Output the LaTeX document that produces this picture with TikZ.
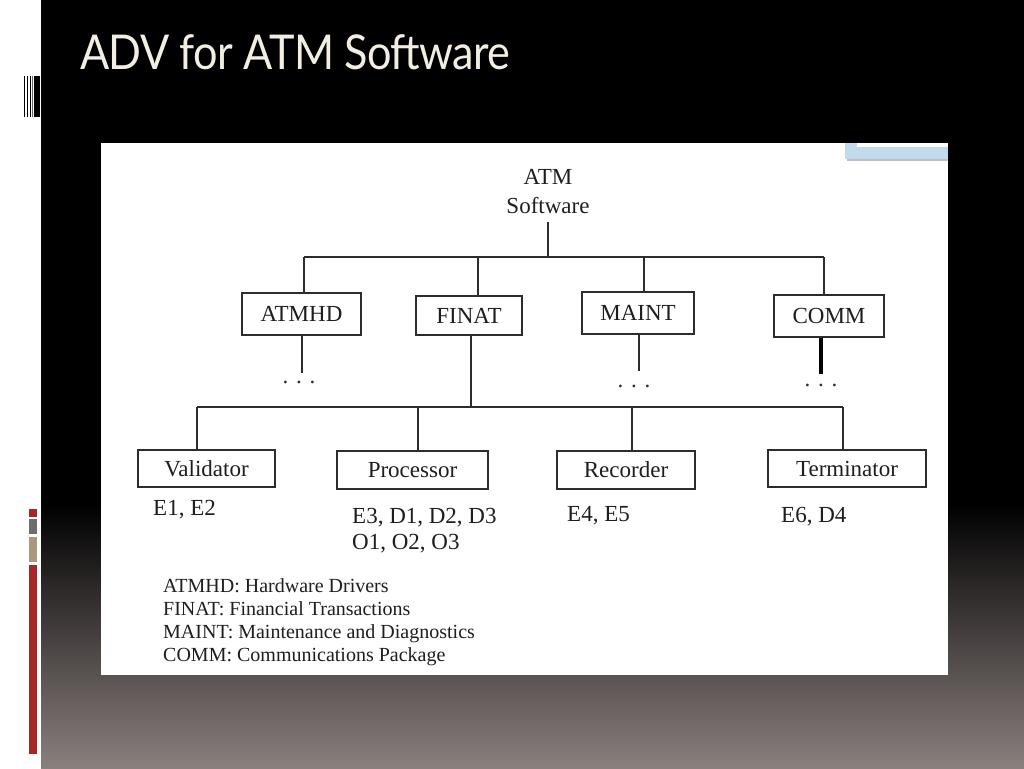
\documentclass[tikz,border=0pt]{standalone}
\usepackage{fontspec}
\usepackage{graphicx}
\setmainfont{Liberation Serif}
\newfontfamily\titlefont[LetterSpace=-1.5]{Lato}
\definecolor{bgend}{RGB}{138,128,126}
\definecolor{titlec}{RGB}{242,238,226}
\definecolor{linec}{RGB}{45,45,45}
\definecolor{txtc}{RGB}{30,30,30}
\definecolor{barred}{RGB}{165,40,40}
\definecolor{bargray}{RGB}{110,110,110}
\definecolor{bartan}{RGB}{170,152,122}
\definecolor{tabblue}{RGB}{192,219,236}
\newcommand{\diagfont}{\fontsize{23}{27}\selectfont}
\newcommand{\legfont}{\fontsize{20}{23}\selectfont}
\tikzset{
  box/.style={draw=linec, line width=1.3pt, inner sep=0pt, text height=15.2pt, text depth=0pt, font=\diagfont, text=txtc},
  conn/.style={draw=linec, line width=1.3pt},
  lbl/.style={inner sep=0pt, anchor=base west, font=\diagfont, text=txtc},
  leg/.style={inner sep=0pt, anchor=base west, font=\legfont, text=txtc},
  dotsl/.style={inner sep=0pt, anchor=base, font=\diagfont, text=linec}
}
\begin{document}
\begin{tikzpicture}[x=1pt,y=-1pt]
\useasboundingbox (0,0) rectangle (1024,768);
% background
\fill[white] (0,0) rectangle (1024,768);
\fill[black] (41,0) rectangle (1024,503);
\shade[top color=black, bottom color=bgend] (41,503) rectangle (1024,768);
% decorative stripes top-left
\fill[black] (24.3,76) rectangle (25.4,117);
\fill[black] (27,76) rectangle (28.2,117);
\fill[black] (29.8,76) rectangle (31.3,117);
\fill[black!60] (32,76) rectangle (33,117);
\fill[black] (34,76) rectangle (40,117);
% decorative bars bottom-left
\fill[barred] (29,509) rectangle (37,517);
\fill[bargray] (29,519) rectangle (37,534);
\fill[bartan] (29,537) rectangle (37,562);
\fill[barred] (29,565) rectangle (37,754);
% title
\node[inner sep=0pt, anchor=base west, text=titlec, font=\titlefont\fontsize{48}{50}\selectfont] (title) at (80,70) {\scalebox{0.9}[1]{ADV for ATM Software}};
% image panel
\fill[white] (101,143) rectangle (948,675);
\fill[black!25] (847,145) rectangle (948,161);
\fill[tabblue] (845,143) rectangle (948,159);
\fill[white] (857,143) rectangle (948,146.5);
% diagram
\node[lbl, anchor=base] (atm) at (548,184) {ATM};
\node[lbl, anchor=base] (sw) at (548,213) {Software};
\coordinate (stem) at (548,222);
\coordinate (b1a) at (304,257);
\coordinate (b1b) at (478,257);
\coordinate (b1c) at (548,257);
\coordinate (b1d) at (644,257);
\coordinate (b1e) at (824,257);

\node[box, minimum width=119pt, minimum height=42pt] (atmhd) at (301.5,314) {ATMHD};
\node[box, minimum width=106pt, minimum height=39pt] (finat) at (469,315.5) {FINAT};
\node[box, minimum width=112pt, minimum height=42pt] (maint) at (638,313) {MAINT};
\node[box, minimum width=110pt, minimum height=42pt] (comm) at (829,316) {COMM};

\draw[conn] (stem) -- (b1c);
\draw[conn] (b1a) -- (b1e);
\draw[conn] (b1a) -- (b1a |- atmhd.north);
\draw[conn] (b1b) -- (b1b |- finat.north);
\draw[conn] (b1d) -- (b1d |- maint.north);
\draw[conn] (b1e) -- (b1e |- comm.north);

\coordinate (d1) at (302,373);
\coordinate (d2) at (639,371);
\coordinate (d3) at (821,374);
\draw[conn] (d1 |- atmhd.south) -- (d1);
\draw[conn] (d2 |- maint.south) -- (d2);
\draw[draw=black, line width=4pt] (d3 |- comm.south) -- (d3);
\node[dotsl] (dots1) at (299,383) {. . .};
\node[dotsl] (dots2) at (634,387) {. . .};
\node[dotsl] (dots3) at (821,386) {. . .};

\coordinate (b2a) at (197,407);
\coordinate (b2b) at (418,407);
\coordinate (b2f) at (471,407);
\coordinate (b2c) at (632,407);
\coordinate (b2d) at (843,407);

\node[box, minimum width=137pt, minimum height=37pt] (val) at (206.5,468.5) {Validator};
\node[box, minimum width=151pt, minimum height=38pt] (proc) at (412.5,470) {Processor};
\node[box, minimum width=138pt, minimum height=38pt] (rec) at (626,470) {Recorder};
\node[box, minimum width=158pt, minimum height=37pt] (term) at (847,468.5) {Terminator};

\draw[conn] (b2f |- finat.south) -- (b2f);
\draw[conn] (b2a) -- (b2d);
\draw[conn] (b2a) -- (b2a |- val.north);
\draw[conn] (b2b) -- (b2b |- proc.north);
\draw[conn] (b2c) -- (b2c |- rec.north);
\draw[conn] (b2d) -- (b2d |- term.north);

\node[lbl] (e12) at (153,515) {E1, E2};
\node[lbl] (e3) at (352,523) {E3, D1, D2, D3};
\node[lbl] (o1) at (352,549) {O1, O2, O3};
\node[lbl] (e45) at (567,521) {E4, E5};
\node[lbl] (e6) at (781,522) {E6, D4};

\node[leg] (leg1) at (163,592) {ATMHD: Hardware Drivers};
\node[leg] (leg2) at (163,615) {FINAT: Financial Transactions};
\node[leg] (leg3) at (163,638) {MAINT: Maintenance and Diagnostics};
\node[leg] (leg4) at (163,661) {COMM: Communications Package};
\end{tikzpicture}
\end{document}
